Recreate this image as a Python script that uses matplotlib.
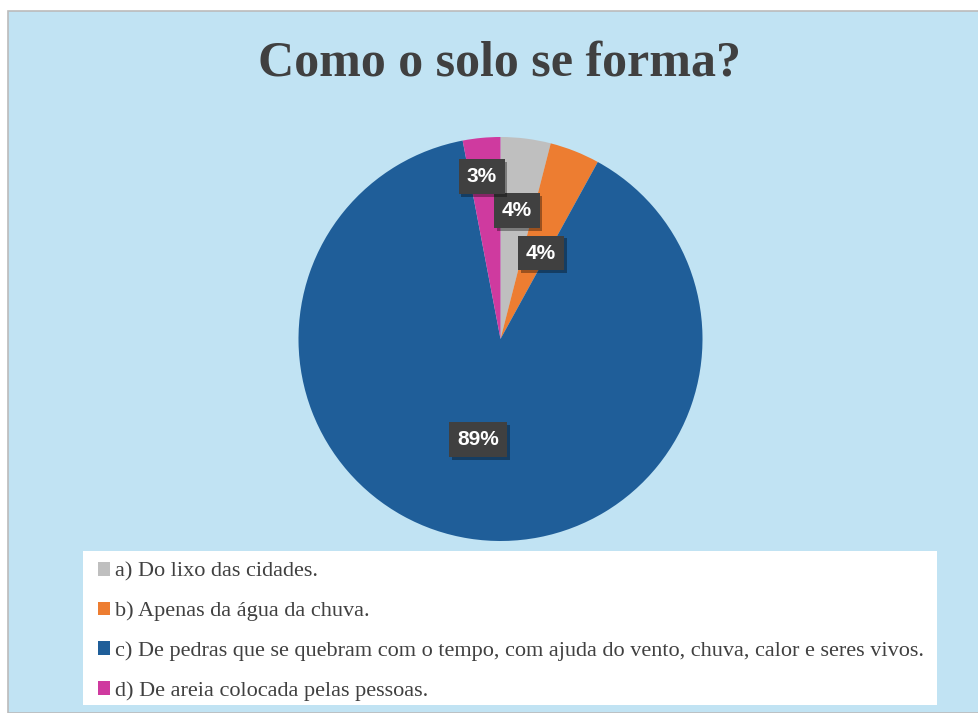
import matplotlib
matplotlib.use("Agg")
import matplotlib.pyplot as plt
from matplotlib.patches import Rectangle
from matplotlib import patheffects
import numpy as np

title = "Como o solo se forma?"
categories = [
    "a) Do lixo das cidades.",
    "b) Apenas da água da chuva.",
    "c) De pedras que se quebram com o tempo, com ajuda do vento, chuva, calor e seres vivos.",
    "d) De areia colocada pelas pessoas.",
]
values = [4, 4, 89, 3]
value_labels = ["4%", "4%", "89%", "3%"]
colors = ["#BFBFBF", "#ED7D31", "#1F5E99", "#CF3A9F"]
label_dist = [0.64, 0.47, 0.51, 0.81]
label_angle_shift = [0, -3.5, -3.5, 1.2]

W, H = 979, 713
fig = plt.figure(figsize=(W / 100, H / 100), dpi=100)
fig.patch.set_facecolor("white")

# panel background
fig.add_artist(Rectangle((8 / W, 0), 1 - 8 / W, 1 - 11 / H, transform=fig.transFigure,
                         facecolor="#C1E3F3", edgecolor="#BBBBBB", linewidth=1.2, zorder=-2))

# title
fig.text(500 / W, 1 - 63 / H, title, ha="center", va="center", fontsize=36,
         fontweight="bold", family="Liberation Serif", color="#404040", zorder=3)

# pie axes
cx, cy, r = 500.5, 339, 202
ax = fig.add_axes([(cx - r) / W, (H - cy - r) / H, 2 * r / W, 2 * r / H])
ax.set_zorder(2)
ax.patch.set_alpha(0)
ax.axis("off")
wedges, _ = ax.pie(values, colors=colors, startangle=90, counterclock=False, radius=1,
                   wedgeprops=dict(linewidth=0))
ax.set_xlim(-1, 1)
ax.set_ylim(-1, 1)
ax.set_aspect("equal")

for w, lab, d, sh in zip(wedges, value_labels, label_dist, label_angle_shift):
    mid = np.deg2rad((w.theta1 + w.theta2) / 2 + sh)
    t = ax.text(d * np.cos(mid), d * np.sin(mid), lab, ha="center", va="center",
                fontsize=15, fontweight="bold", family="Liberation Sans", color="white",
                bbox=dict(boxstyle="square,pad=0.38", fc="#404040", ec="none"), zorder=5)
    t.get_bbox_patch().set_path_effects([
        patheffects.withSimplePatchShadow(offset=(2, -2), shadow_rgbFace="black", alpha=0.35)])

# legend box
lx0, ly0, lx1, ly1 = 83, 551, 937, 705
fig.add_artist(Rectangle((lx0 / W, 1 - ly1 / H), (lx1 - lx0) / W, (ly1 - ly0) / H,
                         transform=fig.transFigure, facecolor="white", edgecolor="none", zorder=-1))
handles = [Rectangle((0, 0), 1, 1, facecolor=c, edgecolor="none") for c in colors]
leg = fig.legend(handles, categories, loc="upper left", bbox_to_anchor=(98 / W, 1 - 562 / H),
                 frameon=False, prop=dict(family="Liberation Serif", size=16),
                 handlelength=0.56, handleheight=0.56, handletextpad=0.2, labelspacing=0.9,
                 borderpad=0, borderaxespad=0)
leg.set_zorder(6)
for t in leg.get_texts():
    t.set_color("#404040")

fig.savefig("out.png", dpi=100, facecolor=fig.get_facecolor())
